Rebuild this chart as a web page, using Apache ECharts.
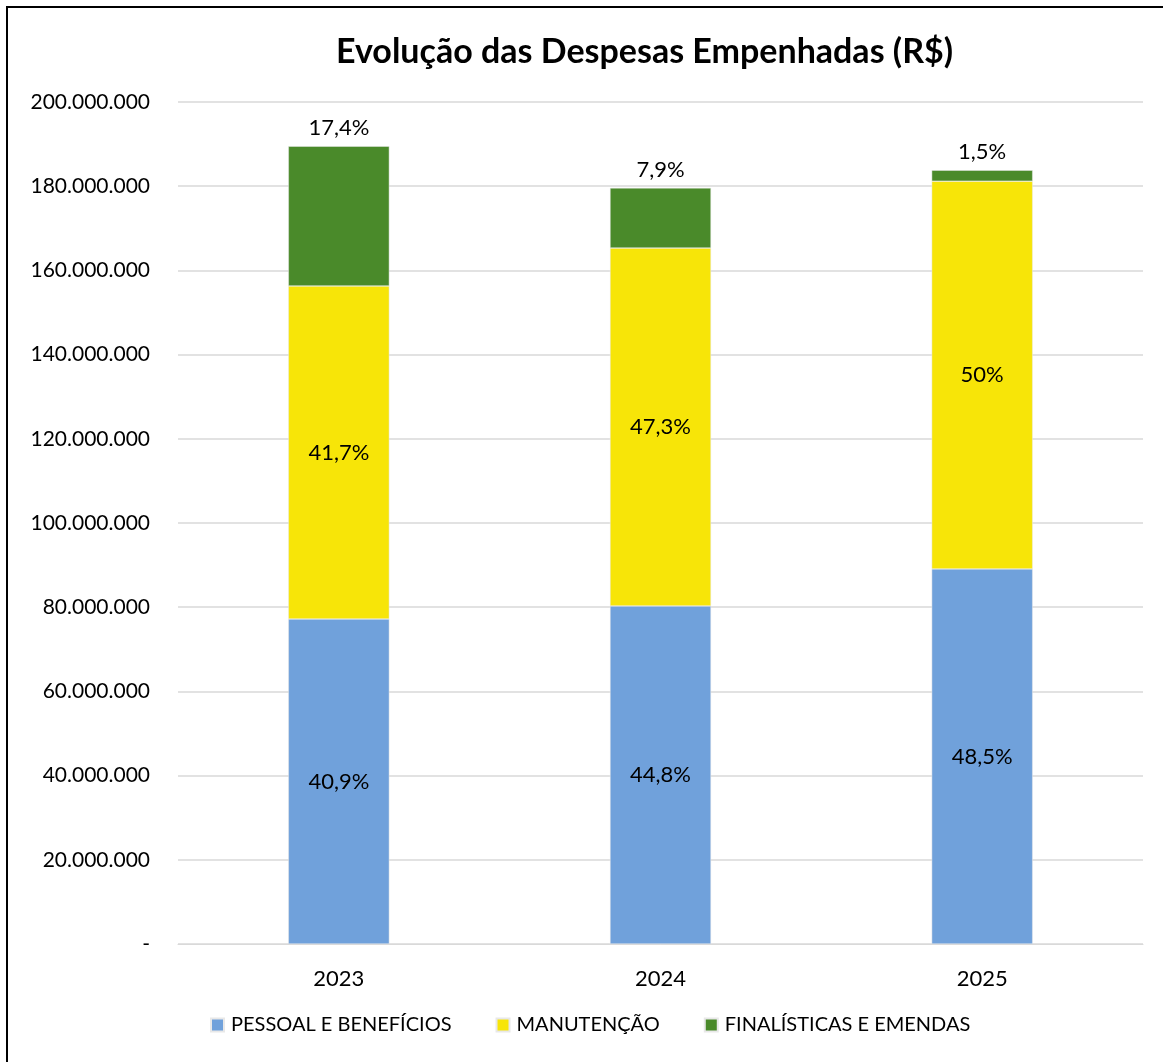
<!DOCTYPE html>
<html>
<head>
<meta charset="utf-8">
<script src="https://cdn.jsdelivr.net/npm/echarts@6/dist/echarts.min.js"></script>
<style>
  html, body { margin: 0; padding: 0; background: #fff; }
  #chart { width: 1163px; height: 1062px; }
  .frame { position: absolute; left: 6px; top: 6px; width: 1170px; height: 1070px;
    border: 2px solid #000; box-sizing: border-box; pointer-events: none; }
</style>
</head>
<body>
<div id="chart"></div>
<div class="frame"></div>
<script>
// anos
const anos = ['2023', '2024', '2025']
// valores em R$
const pessoal = [77200000, 80300000, 89100000]
const manutencao = [79100000, 85000000, 92100000]
const finalisticas = [33200000, 14300000, 2600000]
// rótulos percentuais
const pessoalPct = ['40,9%', '44,8%', '48,5%']
const manutencaoPct = ['41,7%', '47,3%', '50%']
const finalisticasPct = ['17,4%', '7,9%', '1,5%']

const fonte = 'Lato, "Open Sans", sans-serif'

function fmtEixo (v) {
  if (v === 0) return '-'
  return String(v).replace(/\B(?=(\d{3})+(?!\d))/g, '.')
}

function serie (name, data, pct, color, pos) {
  return {
    name,
    type: 'bar',
    stack: 'total',
    barWidth: 101,
    data,
    itemStyle: { color, borderColor: '#e8e8e8', borderWidth: 0.5 },
    label: {
      show: true,
      position: pos,
      distance: 7,
      color: '#000',
      fontSize: 22,
      fontFamily: fonte,
      formatter: (p) => pct[p.dataIndex]
    }
  }
}

const myChart = echarts.init(document.getElementById('chart'))
myChart.setOption({
  animation: false,
  title: {
    text: 'Evolução das Despesas Empenhadas (R$)',
    left: 331,
    top: 30,
    textStyle: { fontSize: 34, fontWeight: 'bold', fontFamily: fonte, color: '#000' }
  },
  grid: { left: 178, right: 20, top: 102, bottom: 118, containLabel: false },
  legend: {
    bottom: 22,
    left: 205,
    itemWidth: 13,
    itemHeight: 13,
    itemGap: 44,
    icon: 'rect',
    textStyle: { fontSize: 20, fontFamily: fonte, color: '#000', padding: [0, 0, 0, 2] }
  },
  xAxis: {
    type: 'category',
    data: anos,
    axisLine: { lineStyle: { color: '#d9d9d9', width: 1 } },
    axisTick: { show: false },
    axisLabel: { fontSize: 22, fontFamily: fonte, color: '#000', margin: 24 }
  },
  yAxis: {
    type: 'value',
    min: 0,
    max: 200000000,
    interval: 20000000,
    axisLine: { show: false },
    axisTick: { show: false },
    splitLine: { lineStyle: { color: '#d9d9d9', width: 1.5 } },
    axisLabel: { fontSize: 21, fontFamily: fonte, color: '#000', margin: 28, formatter: fmtEixo }
  },
  series: [
    serie('PESSOAL E BENEFÍCIOS', pessoal, pessoalPct, '#70A1DB', 'inside'),
    serie('MANUTENÇÃO', manutencao, manutencaoPct, '#F7E508', 'inside'),
    serie('FINALÍSTICAS E EMENDAS', finalisticas, finalisticasPct, '#4A8A2A', 'top')
  ]
})
</script>
</body>
</html>
